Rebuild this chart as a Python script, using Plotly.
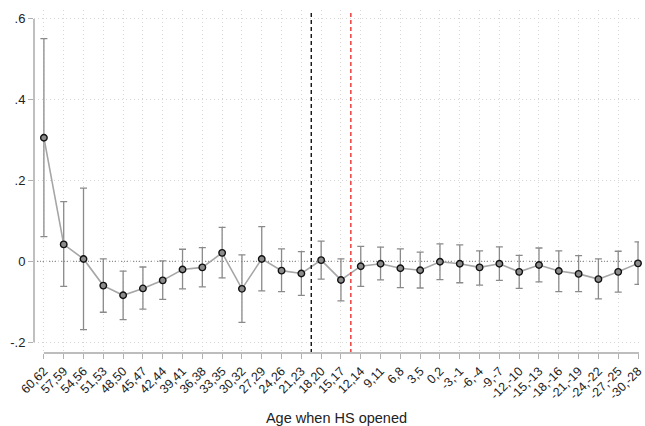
import plotly.graph_objects as go

categories = ["60,62", "57,59", "54,56", "51,53", "48,50", "45,47", "42,44", "39,41", "36,38",
              "33,35", "30,32", "27,29", "24,26", "21,23", "18,20", "15,17", "12,14", "9,11",
              "6,8", "3,5", "0,2", "-3,-1", "-6,-4", "-9,-7", "-12,-10", "-15,-13", "-18,-16",
              "-21,-19", "-24,-22", "-27,-25", "-30,-28"]
estimates = [0.306, 0.042, 0.006, -0.060, -0.084, -0.067, -0.047, -0.020, -0.015,
             0.021, -0.068, 0.006, -0.023, -0.030, 0.003, -0.046, -0.012, -0.006,
             -0.017, -0.022, -0.001, -0.006, -0.015, -0.006, -0.026, -0.009, -0.024,
             -0.031, -0.044, -0.026, -0.005]
ci_upper = [0.551, 0.148, 0.181, 0.006, -0.024, -0.014, 0.001, 0.030, 0.034,
            0.084, 0.016, 0.086, 0.031, 0.024, 0.050, 0.006, 0.037, 0.035,
            0.031, 0.023, 0.043, 0.041, 0.026, 0.036, 0.015, 0.033, 0.026,
            0.014, 0.006, 0.025, 0.048]
ci_lower = [0.061, -0.062, -0.169, -0.126, -0.144, -0.118, -0.094, -0.068, -0.063,
            -0.041, -0.151, -0.073, -0.075, -0.084, -0.044, -0.098, -0.062, -0.046,
            -0.065, -0.066, -0.045, -0.053, -0.059, -0.047, -0.067, -0.051, -0.075,
            -0.075, -0.093, -0.076, -0.057]
y_tickvals = [-0.2, 0, 0.2, 0.4, 0.6]
y_ticktext = ["-.2", "0", ".2", ".4", ".6"]
black_line_pos = 13.5
red_line_pos = 15.5

xs = list(range(len(categories)))
err_plus = [u - e for u, e in zip(ci_upper, estimates)]
err_minus = [e - l for e, l in zip(estimates, ci_lower)]

fig = go.Figure()
fig.add_trace(go.Scatter(
    x=xs, y=estimates, mode="lines",
    line=dict(color="#a6a6a6", width=1.6),
    error_y=dict(type="data", array=err_plus, arrayminus=err_minus, symmetric=False,
                 color="#8a8a8a", thickness=1.3, width=3.5),
    hoverinfo="skip", showlegend=False, cliponaxis=False,
))
fig.add_trace(go.Scatter(
    x=xs, y=estimates, mode="markers",
    marker=dict(symbol="circle", size=6.5, color="#8c8c8c",
                line=dict(color="#111111", width=1.4)),
    showlegend=False, cliponaxis=False,
))

# zero reference line (darker dotted)
fig.add_shape(type="line", xref="paper", yref="y", x0=0, x1=1, y0=0, y1=0,
              line=dict(color="#8f8f8f", width=1.3, dash="1px,2px"), layer="below")
# vertical dashed lines
fig.add_shape(type="line", xref="x", yref="paper", x0=black_line_pos, x1=black_line_pos,
              y0=0, y1=1, line=dict(color="black", width=1.3, dash="4px,3px"))
fig.add_shape(type="line", xref="x", yref="paper", x0=red_line_pos, x1=red_line_pos,
              y0=0, y1=1, line=dict(color="#e8231f", width=1.3, dash="4px,3px"))
# axis lines (Stata style, spanning ticks)
fig.add_shape(type="line", xref="paper", yref="y", x0=0, x1=0, y0=-0.2, y1=0.6,
              line=dict(color="#b0b0b0", width=1.6))
fig.add_shape(type="line", xref="x", yref="paper", x0=0, x1=30.05, y0=0, y1=0,
              line=dict(color="#bdbdbd", width=2.2))

fig.update_layout(
    width=645, height=426,
    margin=dict(l=34, r=0, t=10, b=69),
    paper_bgcolor="white", plot_bgcolor="white",
    font=dict(family="Liberation Sans, Arial, sans-serif", color="#222222"),
    xaxis=dict(
        range=[-0.5, 30.05],
        tickvals=xs, ticktext=categories, tickangle=-45,
        tickfont=dict(size=12.5, color="#222222"),
        ticklabeloverflow="allow",
        ticks="outside", ticklen=5, tickcolor="#b0b0b0", tickwidth=1,
        showgrid=True, gridcolor="#d6d6d6", griddash="1px,3px", gridwidth=1,
        zeroline=False, showline=False,
        title=dict(text="Age when HS opened", font=dict(size=14.5, color="#222222"), standoff=14),
    ),
    yaxis=dict(
        range=[-0.2268, 0.622],
        tickvals=y_tickvals, ticktext=y_ticktext,
        tickfont=dict(size=13, color="#222222"),
        ticks="outside", ticklen=5, tickcolor="#b0b0b0", tickwidth=1,
        showgrid=True, gridcolor="#d6d6d6", griddash="1px,3px", gridwidth=1,
        zeroline=False, showline=False,
    ),
)

fig.write_html("out.html")
